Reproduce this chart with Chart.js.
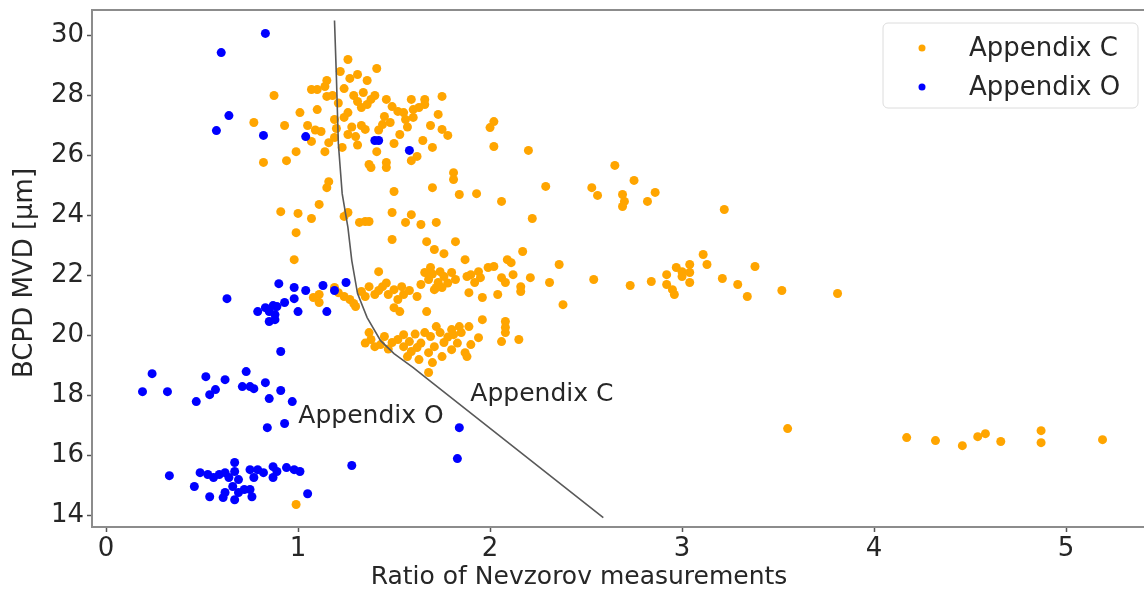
<!DOCTYPE html>
<html>
<head>
<meta charset="utf-8">
<script src="https://cdn.jsdelivr.net/npm/chart.js@4.4.1/dist/chart.umd.min.js"></script>
<style>
  html, body { margin: 0; padding: 0; background: #fff; }
  canvas { display: block; }
</style>
</head>
<body>
<canvas id="chartMvd" width="1144" height="592"></canvas>
<script>
// points: [ratio, MVD]
const appendixC = [
  [1.26,29.2],[1.41,28.9],[1.22,28.8],[1.27,28.57],[1.15,28.5],[1.07,28.2],[1.10,28.2],[1.14,28.3],
  [1.24,28.23],[1.15,27.97],[1.29,28.0],[0.875,28.0],[1.40,28.0],[1.38,27.87],[1.46,27.87],[1.59,27.87],
  [1.66,27.87],[1.75,27.97],[1.36,27.7],[1.33,27.6],[1.49,27.63],[1.52,27.47],[1.55,27.43],[1.60,27.53],
  [1.60,27.27],[1.73,27.37],[1.10,27.53],[1.01,27.43],[1.26,27.43],[1.24,27.27],[1.45,27.3],[1.44,27.03],
  [1.19,27.2],[0.77,27.1],[0.93,27.0],[1.33,27.0],[1.35,26.87],[1.69,27.0],[1.75,26.87],[1.78,26.67],
  [1.12,26.8],[1.26,26.7],[1.30,26.63],[1.53,26.7],[1.19,26.6],[1.16,26.43],[1.07,26.47],[1.23,26.27],
  [1.14,26.13],[0.99,26.13],[1.70,26.27],[1.41,26.13],[0.82,25.77],[0.94,25.83],[1.59,25.83],[1.62,25.97],
  [1.37,25.7],[1.38,25.6],[1.46,25.77],[1.46,25.6],[1.16,25.13],[1.15,24.93],[1.81,25.43],[1.81,25.2],
  [1.50,24.8],[1.70,24.93],[1.84,24.7],[1.66,27.7],[1.56,27.2],
  [1.18,28.0],[1.21,27.75],[1.31,27.8],[1.34,28.1],[1.20,26.9],[1.28,26.95],[1.42,26.85],[1.48,27.1],
  [1.57,26.95],[1.63,27.6],[1.31,26.35],[1.05,27.0],[1.09,26.85],[1.50,26.4],[1.65,26.5],[1.36,28.5],
  [1.31,28.7],
  [2.02,27.13],[2.0,26.93],[2.02,26.3],[2.20,26.17],[1.93,24.73],[2.06,24.47],[2.29,24.97],[2.65,25.67],
  [2.75,25.17],[2.53,24.93],[2.56,24.67],[2.69,24.7],[2.70,24.47],[2.69,24.3],[2.82,24.47],[2.86,24.77],
  [3.22,24.2],[1.49,24.1],[1.59,24.03],[1.56,23.77],[1.64,23.7],[1.72,23.77],[2.22,23.9],[1.49,23.2],
  [1.67,23.13],[1.82,23.13],
  [0.91,24.13],[1.0,24.07],[1.07,23.9],[1.11,24.37],[1.24,23.97],[1.26,24.1],[1.32,23.77],[1.35,23.8],
  [1.37,23.8],[0.99,23.43],[1.71,22.87],[1.76,22.73],[1.87,22.53],[0.98,22.53],[1.42,22.13],
  [1.11,21.37],[1.11,21.1],[1.21,21.43],[1.24,21.3],[1.27,21.2],[1.30,20.97],[1.33,21.47],[1.37,21.63],
  [1.40,21.37],[1.44,21.63],[1.47,21.37],[1.50,21.53],[1.54,21.63],[1.55,21.37],[1.52,21.2],[1.19,21.6],
  [1.08,21.27],[1.29,21.07],[1.35,21.3],[1.42,21.5],[1.46,21.75],[1.58,21.5],[1.62,21.3],
  [1.66,22.1],[1.69,22.27],[1.74,22.13],[1.76,21.97],[1.73,21.77],[1.68,21.87],[1.75,21.6],[1.71,21.53],
  [1.82,21.87],[1.88,21.97],[1.89,21.43],[1.50,20.93],[1.53,20.8],[1.67,20.8],
  [1.70,22.05],[1.72,21.6],[1.78,21.75],[1.64,21.7],[1.80,22.1],
  [1.37,20.1],[1.38,19.87],[1.40,19.63],[1.35,19.75],[1.45,19.97],[1.49,19.77],[1.52,19.87],[1.55,20.03],
  [1.55,19.63],[1.59,19.47],[1.63,19.2],[1.66,20.1],[1.69,19.97],[1.74,20.1],[1.76,19.77],[1.71,19.63],
  [1.75,19.3],[1.80,19.53],[1.85,20.1],[1.87,19.43],[1.68,19.43],[1.68,18.77],
  [1.43,19.7],[1.47,19.55],[1.58,19.8],[1.61,20.05],[1.64,19.75],[1.72,20.3],[1.78,19.95],[1.83,19.75],
  [1.90,19.7],[1.57,19.3],[1.70,19.1],
  [2.17,22.8],[2.09,22.53],[2.11,22.43],[2.36,22.37],[1.90,22.03],[1.94,22.13],[1.95,21.93],[1.99,22.27],
  [2.02,22.3],[1.92,21.77],[2.06,21.93],[2.08,21.77],[2.12,22.03],[2.16,21.63],[2.16,21.47],[2.21,21.93],
  [2.31,21.77],[2.54,21.87],[2.73,21.67],[2.84,21.8],[2.92,22.03],[2.92,21.7],[2.95,21.53],[2.96,21.37],
  [2.97,22.27],[3.0,22.13],[3.0,21.97],[3.04,22.37],[3.04,22.1],[3.04,21.77],[3.11,22.7],[3.13,22.37],
  [3.21,21.9],[3.29,21.7],[3.34,21.3],[3.38,22.3],[3.52,21.5],[1.96,21.27],[2.04,21.37],[2.38,21.03],
  [1.96,20.53],[2.08,20.47],[2.08,20.27],[2.08,20.1],[1.80,20.2],[1.84,20.3],[1.89,20.3],[1.81,20.03],
  [1.94,19.93],[2.06,19.8],[2.15,19.87],[1.88,19.3],[1.62,19.6],[3.81,21.4],
  [3.55,16.9],[4.17,16.6],[4.32,16.5],[4.46,16.33],[4.54,16.63],[4.58,16.73],[4.66,16.47],[4.87,16.83],
  [4.87,16.43],[5.19,16.53],[0.99,14.37]
];

const appendixO = [
  [0.83,30.07],[0.60,29.43],[0.64,27.33],[0.575,26.83],[0.82,26.67],[1.04,26.63],[1.40,26.5],[1.42,26.5],
  [1.58,26.17],
  [0.90,21.73],[0.98,21.6],[1.04,21.5],[1.13,21.67],[1.19,21.5],[1.25,21.77],[0.63,21.23],[0.98,21.23],
  [0.93,21.1],[0.89,20.97],[0.87,21.0],[0.83,20.93],[0.79,20.8],[0.85,20.8],[0.88,20.7],[0.85,20.47],
  [0.88,20.53],[1.0,20.8],[1.15,20.8],[0.91,19.47],
  [0.24,18.73],[0.19,18.13],[0.32,18.13],[0.52,18.63],[0.62,18.53],[0.73,18.8],[0.54,18.03],[0.57,18.2],
  [0.47,17.8],[0.71,18.3],[0.75,18.3],[0.77,18.23],[0.83,18.43],[0.85,17.9],[0.91,18.17],[0.97,17.8],
  [0.84,16.93],[0.93,17.07],[1.84,16.93],[1.83,15.9],[1.28,15.67],[1.05,14.73],
  [0.33,15.33],[0.46,14.97],[0.54,14.63],[0.49,15.43],[0.53,15.37],[0.56,15.27],[0.59,15.37],[0.62,15.43],
  [0.64,15.27],[0.67,15.77],[0.67,15.47],[0.69,15.2],[0.66,14.97],[0.62,14.77],[0.69,14.77],[0.72,14.87],
  [0.75,15.53],[0.79,15.53],[0.77,15.27],[0.82,15.43],[0.87,15.63],[0.89,15.47],[0.87,15.27],[0.94,15.6],
  [0.98,15.53],[1.01,15.47],[0.76,14.63],[0.67,14.53],[0.61,14.6],[0.75,14.87]
];

// separating line between the two regimes (curved top, straight lower leg)
const boundaryX = [1.19, 1.20, 1.21, 1.23, 1.26, 1.28, 1.31, 1.36, 1.43, 1.50, 1.60, 1.70, 2.59];
const boundaryY = [30.5, 28.6, 26.4, 24.73, 23.6, 22.5, 21.4, 20.6, 19.83, 19.4, 18.93, 18.42, 13.93];

const xTicks = [0, 1, 2, 3, 4, 5];
const yTicks = [14, 16, 18, 20, 22, 24, 26, 28, 30];

const seriesLabels = ['Appendix C', 'Appendix O'];
const seriesColors = ['#FFA500', '#0000FF'];

const FONT = '"DejaVu Sans", sans-serif';
const TXT = '#262626';
const SPINE = '#8c8c8c';

function toXY(pairs) {
    return pairs.map(p => ({ x: p[0], y: p[1] }));
}

const frameAndText = {
    id: 'frameAndText',
    afterDraw(chart) {
        const ctx = chart.ctx;
        const a = chart.chartArea;
        const sx = chart.scales.x;
        const sy = chart.scales.y;

        ctx.save();
        // top spine (right one is cropped in the original)
        ctx.strokeStyle = SPINE;
        ctx.lineWidth = 2;
        ctx.beginPath();
        ctx.moveTo(a.left, a.top);
        ctx.lineTo(a.right, a.top);
        ctx.stroke();

        // region labels
        ctx.fillStyle = TXT;
        ctx.font = '25px ' + FONT;
        ctx.textAlign = 'center';
        ctx.textBaseline = 'middle';
        ctx.fillText('Appendix O', sx.getPixelForValue(1.38), sy.getPixelForValue(17.3));
        ctx.fillText('Appendix C', sx.getPixelForValue(2.27), sy.getPixelForValue(18.05));

        // axis titles
        ctx.fillText('Ratio of Nevzorov measurements', 579, 577);
        ctx.save();
        ctx.translate(25, 273);
        ctx.rotate(-Math.PI / 2);
        ctx.font = '26px ' + FONT;
        ctx.fillText('BCPD MVD [µm]', 0, 0);
        ctx.restore();

        // legend box
        const bx = 883, by = 23, bw = 255, bh = 85, r = 5;
        ctx.fillStyle = 'rgba(255,255,255,0.8)';
        ctx.strokeStyle = '#dcdcdc';
        ctx.lineWidth = 1;
        ctx.beginPath();
        ctx.moveTo(bx + r, by);
        ctx.arcTo(bx + bw, by, bx + bw, by + bh, r);
        ctx.arcTo(bx + bw, by + bh, bx, by + bh, r);
        ctx.arcTo(bx, by + bh, bx, by, r);
        ctx.arcTo(bx, by, bx + bw, by, r);
        ctx.closePath();
        ctx.fill();
        ctx.stroke();

        ctx.textAlign = 'left';
        ctx.font = '26px ' + FONT;
        seriesLabels.forEach((lbl, i) => {
            const yy = 48 + i * 39;
            ctx.fillStyle = seriesColors[i];
            ctx.beginPath();
            ctx.arc(922, yy, 3.5, 0, Math.PI * 2);
            ctx.fill();
            ctx.fillStyle = TXT;
            ctx.fillText(lbl, 969, yy + 1);
        });
        ctx.restore();
    }
};

const ctx = document.getElementById('chartMvd').getContext('2d');
new Chart(ctx, {
    type: 'scatter',
    data: {
        datasets: [
            {
                label: 'boundary',
                data: boundaryX.map((x, i) => ({ x: x, y: boundaryY[i] })),
                showLine: true,
                borderColor: '#595959',
                borderWidth: 1.6,
                pointRadius: 0,
                fill: false,
                order: 0
            },
            {
                label: seriesLabels[1],
                data: toXY(appendixO),
                backgroundColor: seriesColors[1],
                borderWidth: 0,
                pointRadius: 4.5,
                order: 1
            },
            {
                label: seriesLabels[0],
                data: toXY(appendixC),
                backgroundColor: seriesColors[0],
                borderWidth: 0,
                pointRadius: 4.5,
                order: 2
            }
        ]
    },
    options: {
        responsive: false,
        animation: false,
        layout: { autoPadding: false, padding: { top: 10, left: 0, right: 0, bottom: 0 } },
        plugins: {
            legend: { display: false },
            tooltip: { enabled: false }
        },
        scales: {
            x: {
                type: 'linear',
                min: -0.073,
                max: 5.406,
                afterBuildTicks: s => { s.ticks = xTicks.map(v => ({ value: v })); },
                afterFit: s => { s.height = 65; s.paddingLeft = 0; s.paddingRight = 0; },
                grid: { drawOnChartArea: false, drawTicks: true, tickLength: 5, tickWidth: 1.5, color: '#555' },
                border: { display: true, color: SPINE, width: 2 },
                ticks: { color: TXT, font: { family: FONT, size: 26 }, padding: 2, maxRotation: 0 }
            },
            y: {
                type: 'linear',
                min: 13.62,
                max: 30.85,
                afterBuildTicks: s => { s.ticks = yTicks.map(v => ({ value: v })); },
                afterFit: s => { s.width = 92; s.paddingTop = 0; s.paddingBottom = 0; },
                grid: { drawOnChartArea: false, drawTicks: true, tickLength: 5, tickWidth: 1.5, color: '#555' },
                border: { display: true, color: SPINE, width: 2 },
                ticks: { color: TXT, font: { family: FONT, size: 26 }, padding: 3 }
            }
        }
    },
    plugins: [frameAndText]
});
</script>
</body>
</html>
